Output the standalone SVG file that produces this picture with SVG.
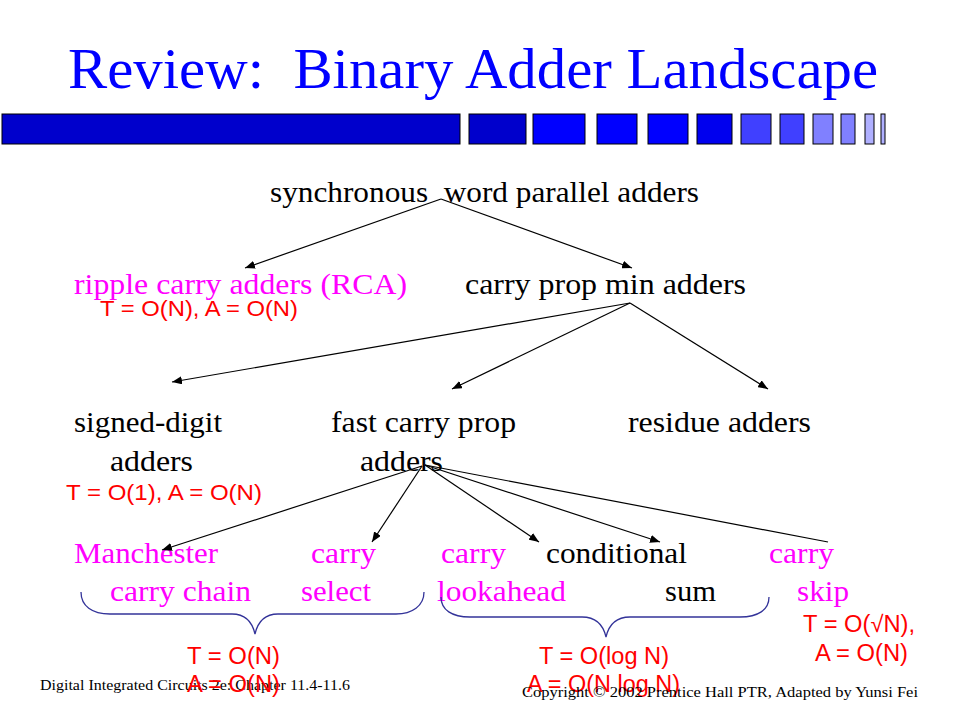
<svg xmlns="http://www.w3.org/2000/svg" width="960" height="720" viewBox="0 0 960 720">
<style>
.t{font-family:"Liberation Serif","Times New Roman",serif;font-size:30px;fill:#000}
.m{fill:#ff00ff}
.r{font-family:"Liberation Sans",Arial,sans-serif;font-size:23px;fill:#ff0000}
.rs{font-size:22px}
.f{font-family:"Liberation Serif","Times New Roman",serif;font-size:14px;fill:#000}
.bar rect{stroke:#000;stroke-width:1}
.c line{stroke:#000;stroke-width:1.2;marker-end:url(#ah)}
.c line.na{marker-end:none}
.br{fill:none;stroke:#333399;stroke-width:1.3}
</style>
<defs>
<marker id="ah" viewBox="0 0 10 8" refX="10" refY="4" markerWidth="10" markerHeight="8" markerUnits="userSpaceOnUse" orient="auto">
<path d="M0,0 L10,4 L0,8 z" fill="#000"/>
</marker>
</defs>
<rect width="960" height="720" fill="#fff"/>
<g id="title">
<text x="68" y="88" font-family="Liberation Serif,'Times New Roman',serif" font-size="56" fill="#0000ff" textLength="810" lengthAdjust="spacingAndGlyphs" xml:space="preserve">Review:  Binary Adder Landscape</text>
</g>
<g id="bar" class="bar">
<rect x="2" y="114" width="458" height="30" fill="#0000cc"/>
<rect x="469" y="114" width="57" height="30" fill="#0000cc"/>
<rect x="533" y="114" width="52" height="30" fill="#0000ff"/>
<rect x="597" y="114" width="40" height="30" fill="#0000ff"/>
<rect x="648" y="114" width="40" height="30" fill="#0000ff"/>
<rect x="697" y="114" width="35" height="30" fill="#0000ee"/>
<rect x="741" y="114" width="30" height="30" fill="#4040ff"/>
<rect x="780" y="114" width="24" height="30" fill="#4040ff"/>
<rect x="813" y="114" width="20" height="30" fill="#8080ff"/>
<rect x="841" y="114" width="14" height="30" fill="#8080ff"/>
<rect x="865" y="114" width="9" height="30" fill="#b0b0ff"/>
<rect x="881" y="114" width="4" height="30" fill="#b0b0ff"/>
</g>
<g id="n-sync"><text class="t" x="270" y="202" textLength="429" lengthAdjust="spacingAndGlyphs" xml:space="preserve">synchronous  word parallel adders</text></g>
<g id="n-rca">
<text class="t m" x="74" y="294" textLength="333" lengthAdjust="spacingAndGlyphs">ripple carry adders (RCA)</text>
<text class="r rs" x="100" y="316" textLength="198" lengthAdjust="spacingAndGlyphs">T = O(N), A = O(N)</text>
</g>
<g id="n-cpm"><text class="t" x="465" y="294" textLength="281" lengthAdjust="spacingAndGlyphs">carry prop min adders</text></g>
<g id="n-sd">
<text class="t" x="74" y="432" textLength="148" lengthAdjust="spacingAndGlyphs">signed-digit</text>
<text class="t" x="110" y="471" textLength="83" lengthAdjust="spacingAndGlyphs">adders</text>
<text class="r rs" x="66" y="500" textLength="196" lengthAdjust="spacingAndGlyphs">T = O(1), A = O(N)</text>
</g>
<g id="n-fcp">
<text class="t" x="331" y="432" textLength="185" lengthAdjust="spacingAndGlyphs">fast carry prop</text>
<text class="t" x="360" y="471" textLength="83" lengthAdjust="spacingAndGlyphs">adders</text>
</g>
<g id="n-res"><text class="t" x="628" y="432" textLength="183" lengthAdjust="spacingAndGlyphs">residue adders</text></g>
<g id="n-man">
<text class="t m" x="74" y="563" textLength="144" lengthAdjust="spacingAndGlyphs">Manchester</text>
<text class="t m" x="110" y="601" textLength="141" lengthAdjust="spacingAndGlyphs">carry chain</text>
</g>
<g id="n-sel">
<text class="t m" x="311" y="563" textLength="65" lengthAdjust="spacingAndGlyphs">carry</text>
<text class="t m" x="301" y="601" textLength="70" lengthAdjust="spacingAndGlyphs">select</text>
</g>
<g id="n-cla">
<text class="t m" x="441" y="563" textLength="65" lengthAdjust="spacingAndGlyphs">carry</text>
<text class="t m" x="437" y="601" textLength="129" lengthAdjust="spacingAndGlyphs">lookahead</text>
</g>
<g id="n-cond">
<text class="t" x="546" y="563" textLength="141" lengthAdjust="spacingAndGlyphs">conditional</text>
<text class="t" x="665" y="601" textLength="51" lengthAdjust="spacingAndGlyphs">sum</text>
</g>
<g id="n-skip">
<text class="t m" x="769" y="563" textLength="65" lengthAdjust="spacingAndGlyphs">carry</text>
<text class="t m" x="797" y="601" textLength="52" lengthAdjust="spacingAndGlyphs">skip</text>
<text class="r" x="803" y="632" textLength="112" lengthAdjust="spacingAndGlyphs">T = O(√N),</text>
<text class="r" x="815" y="661" textLength="93" lengthAdjust="spacingAndGlyphs">A = O(N)</text>
</g>
<g id="connectors" class="c">
<line x1="441" y1="199" x2="245" y2="268"/>
<line x1="441" y1="199" x2="632" y2="268"/>
<line x1="630" y1="303" x2="172" y2="382"/>
<line x1="630" y1="303" x2="452" y2="389"/>
<line x1="630" y1="303" x2="768" y2="389"/>
<line x1="422" y1="466" x2="162" y2="550"/>
<line x1="422" y1="466" x2="372" y2="542"/>
<line x1="425" y1="465" x2="539" y2="542"/>
<line x1="425" y1="465" x2="660" y2="542"/>
<line class="na" x1="425" y1="465" x2="828" y2="542"/>
</g>
<g id="footer-left"><text class="f" x="40" y="690" textLength="310" lengthAdjust="spacingAndGlyphs">Digital Integrated Circuits 2e: Chapter 11.4-11.6</text></g>
<g id="brace-left">
<path class="br" d="M81,592 C81,606 92,614 110,614 L232,614 C245,614 252,621 255,634 C258,621 265,614 278,614 L396,614 C412,614 424,606 424,592"/>
<text class="r" x="187" y="664" textLength="93" lengthAdjust="spacingAndGlyphs">T = O(N)</text>
<text class="r" x="187" y="692" textLength="93" lengthAdjust="spacingAndGlyphs">A = O(N)</text>
</g>
<g id="brace-right">
<path class="br" d="M441,597 C441,610 452,617 470,617 L582,617 C595,617 603,624 606,637 C609,624 617,617 630,617 L740,617 C758,617 769,610 769,597"/>
<text class="r" x="539" y="664" textLength="130" lengthAdjust="spacingAndGlyphs">T = O(log N)</text>
<text class="r" x="527" y="692" textLength="153" lengthAdjust="spacingAndGlyphs">A = O(N log N)</text>
</g>
<g id="footer-right"><text class="f" x="522" y="697" textLength="396" lengthAdjust="spacingAndGlyphs">Copyright © 2002 Prentice Hall PTR, Adapted by Yunsi Fei</text></g>
</svg>
